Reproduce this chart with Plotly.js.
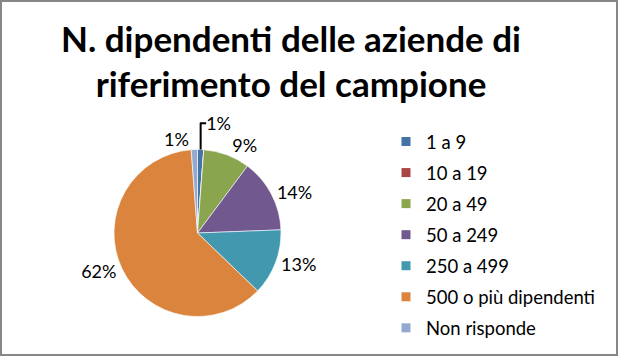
<!DOCTYPE html>
<html>
<head>
<meta charset="utf-8">
<script src="https://cdn.plot.ly/plotly-3.0.1.min.js"></script>
<style>html,body{margin:0;padding:0;background:#fff;}#chart{width:618px;height:356px;}</style>
</head>
<body>
<div id="chart"></div>
<script>
const categories = ["1 a 9", "10 a 19", "20 a 49", "50 a 249", "250 a 499", "500 o più dipendenti", "Non risponde"];
const values = [1.2, 0, 9.0, 14.2, 12.8, 61.6, 1.2];
const colors = ["#4572A7", "#AA4643", "#89A54E", "#71588F", "#4198AF", "#DB843D", "#93A9CF"];
const titleText = "N. dipendenti delle aziende di<br>riferimento del campione";

const W = 618, H = 356;
const cx = 197.5, cy = 233, r = 83.5;

const pie = {
  type: "pie",
  labels: categories,
  values: values,
  sort: false,
  direction: "clockwise",
  rotation: 0,
  marker: {colors: colors, line: {color: "rgba(255,255,255,0.6)", width: 1}},
  textposition: "outside",
  texttemplate: values.map(v => v > 0 ? "%{percent:.0%}" : ""),
  outsidetextfont: {family: "Lato, sans-serif", size: 18, color: "#000"},
  domain: {x: [(cx - r) / W, (cx + r) / W], y: [(H - cy - r) / H, (H - cy + r) / H]},
  showlegend: false,
  hoverinfo: "label+percent"
};

const legendTraces = categories.map((c, i) => ({
  type: "scatter",
  mode: "markers",
  x: [null], y: [null],
  name: c,
  legendgroup: "g" + i,
  marker: {symbol: "square", size: 9, color: colors[i], line: {width: 0}},
  showlegend: true,
  hoverinfo: "skip"
}));

const layout = {
  width: W, height: H,
  margin: {l: 0, r: 0, t: 0, b: 0},
  paper_bgcolor: "#fff",
  plot_bgcolor: "#fff",
  title: {text: titleText, x: 291 / W, xanchor: "center", y: 0.855, yanchor: "top",
          font: {family: "Lato, sans-serif", size: 35, color: "#000", weight: "bold"}},
  xaxis: {visible: false},
  yaxis: {visible: false},
  showlegend: true,
  legend: {x: 386 / W, xanchor: "left", y: (H - 123) / H, yanchor: "top",
           font: {family: "Lato, sans-serif", size: 18.5, color: "#000"},
           tracegroupgap: 4, itemwidth: 30, bgcolor: "rgba(0,0,0,0)"},
  shapes: [{type: "rect", xref: "paper", yref: "paper", x0: 1 / W, x1: 1 - 1 / W, y0: 1 / H, y1: 1 - 1 / H,
            line: {color: "#878787", width: 2}}]
};

Plotly.newPlot("chart", [pie].concat(legendTraces), layout, {displayModeBar: false, staticPlot: true});
</script>
</body>
</html>
